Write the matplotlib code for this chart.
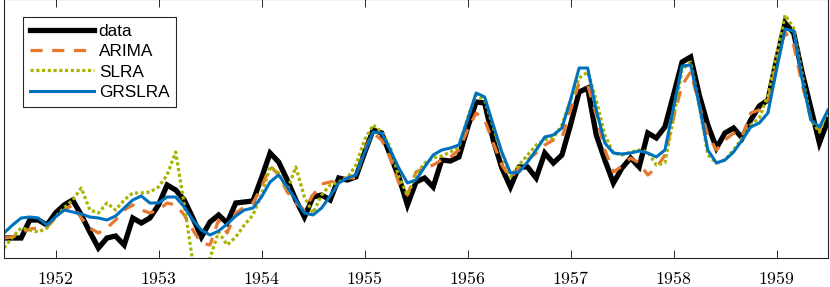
import numpy as np
import matplotlib
matplotlib.use("Agg")
import matplotlib.pyplot as plt

plt.rcParams["mathtext.fontset"] = "cm"

# ── values (monthly, from mid-1951) ────
start_year = 1951.5

data = [20, 20, 20, 38, 38, 33, 45, 53, 58, 43, 26, 10, 20, 22, 13, 40, 35, 40,
        53, 73, 68, 58, 40, 21, 36, 43, 35, 55, 56, 57, 80, 105, 96, 78, 58, 41,
        61, 63, 58, 80, 78, 81, 105, 128, 125, 103, 81, 53, 76, 80, 71, 98, 97, 101,
        130, 156, 155, 118, 90, 71, 91, 91, 80, 105, 95, 103, 133, 166, 170, 123, 98, 75,
        90, 100, 91, 125, 120, 131, 163, 196, 201, 163, 133, 110, 125, 130, 120, 138, 152, 158,
        198, 235, 225, 185, 150, 115, 138]

arima = [20, 21, 25, 29, 30, 31, 40, 48, 53, 40, 30, 25, 30, 38, 48, 53, 48, 45,
         48, 55, 53, 43, 28, 15, 13, 38, 25, 45, 51, 55, 71, 92, 83, 66, 55, 48,
         63, 74, 76, 78, 80, 80, 108, 125, 118, 100, 75, 63, 86, 90, 93, 98, 101, 108,
         128, 145, 138, 115, 93, 80, 90, 98, 105, 113, 118, 120, 148, 175, 173, 143, 108, 86,
         92, 100, 95, 83, 90, 103, 140, 173, 186, 153, 123, 108, 118, 125, 121, 145, 148, 158,
         193, 226, 213, 173, 140, 128, 146]

slra = [10, 21, 30, 28, 26, 30, 41, 50, 58, 70, 48, 45, 55, 48, 58, 65, 65, 66,
        71, 83, 106, 53, -4, -32, 0, 26, 13, 21, 33, 43, 63, 91, 85, 68, 91, 61,
        45, 63, 73, 76, 80, 93, 118, 133, 126, 111, 81, 63, 83, 95, 100, 102, 106, 111,
        140, 163, 158, 131, 103, 81, 93, 103, 113, 118, 120, 133, 158, 180, 186, 158, 123, 105,
        103, 106, 108, 106, 93, 95, 140, 188, 196, 153, 103, 95, 98, 108, 120, 133, 140, 163,
        203, 243, 230, 183, 138, 126, 148]

grslra = [25, 33, 40, 41, 40, 33, 41, 48, 46, 44, 41, 40, 38, 42, 50, 58, 62, 55,
          55, 61, 61, 51, 38, 28, 23, 27, 34, 42, 48, 50, 61, 76, 83, 71, 58, 45,
          43, 50, 62, 75, 80, 83, 105, 126, 125, 108, 90, 75, 78, 91, 103, 108, 110, 113,
          138, 165, 161, 133, 106, 85, 86, 96, 108, 121, 123, 130, 158, 190, 190, 148, 115, 105,
          104, 105, 107, 105, 101, 108, 150, 192, 193, 153, 108, 95, 98, 106, 118, 131, 135, 145,
          188, 229, 227, 178, 138, 131, 148]

year_ticks = [1952, 1953, 1954, 1955, 1956, 1957, 1958, 1959]

t = start_year + np.arange(len(data)) / 12

# ── plot ──────────────────────────────────────────────────────
fig = plt.figure(figsize=(8.30, 2.87), dpi=100)
ax = fig.add_axes([4 / 830, 29 / 287, 824 / 830, 259 / 287])

ax.plot(t, data, color="black", lw=3.8, label="data", solid_joinstyle="miter")
ax.plot(t, arima, color="#E8772E", lw=2.3, ls=(0, (3.8, 3)), label="ARIMA")
ax.plot(t, slra, color="#A8B400", lw=2.3, ls=(0, (1, 0.8)), label="SLRA")
ax.plot(t, grslra, color="#0072BD", lw=2.2, label="GRSLRA")

ax.set_xlim(1951.5, 1959.5)
ax.set_ylim(0, 259)
ax.set_yticks([])
ax.set_xticks(year_ticks)
ax.set_xticklabels([rf"${y}$" for y in year_ticks], fontsize=12.8)
ax.tick_params(axis="x", direction="in", top=True, length=5.8, width=0.7,
               color="#262626", pad=9)
for s in ax.spines.values():
    s.set_color("#262626")
    s.set_linewidth(0.8)

leg = ax.legend(loc="upper left", bbox_to_anchor=(0.023, 0.93), borderaxespad=0,
                prop={"family": "Liberation Sans", "size": 12.4},
                handlelength=3.7, handletextpad=0.3, labelspacing=0.3,
                borderpad=0.4, fancybox=False, framealpha=1)
leg.get_frame().set_edgecolor("#262626")
leg.get_frame().set_linewidth(0.8)

plt.savefig("out.png", dpi=100)
plt.close()
